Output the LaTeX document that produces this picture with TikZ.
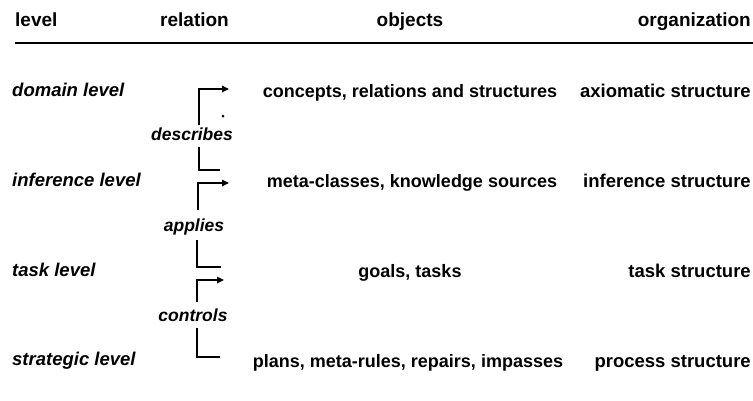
\documentclass[tikz,border=0pt]{standalone}
\usepackage{fontspec}
\setmainfont{Liberation Sans}
\usetikzlibrary{arrows.meta}
\begin{document}
\begin{tikzpicture}[x=1pt,y=-1pt,
  hdr/.style={font=\fontsize{19}{22}\selectfont\bfseries, inner sep=0pt},
  lvl/.style={font=\fontsize{18.5}{22}\selectfont\bfseries\itshape, anchor=base west, inner sep=0pt},
  rel/.style={font=\fontsize{17.5}{21}\selectfont\bfseries\itshape, anchor=base, inner sep=0pt},
  obj/.style={font=\fontsize{18}{22}\selectfont\bfseries, anchor=base, inner sep=0pt},
  org/.style={font=\fontsize{18.5}{22}\selectfont\bfseries, anchor=base east, inner sep=0pt},
  br/.style={line width=1.6pt},
  arr/.style={br, -{Triangle[length=7pt,width=6.5pt]}}]
\useasboundingbox (0,0) rectangle (753,400);
% header
\node[hdr, anchor=base west] (hl) at (15,26) {level};
\node[hdr, anchor=base west] (hr) at (160,26) {relation};
\node[hdr, anchor=base] (ho) at (410,26) {objects};
\node[hdr, anchor=base east] (hg) at (751,26) {organization};
\draw[line width=1.2pt] (15,43) -- (753,43);
% levels
\node[lvl] (ld) at (12,96) {domain level};
\node[lvl] (li) at (12,186) {inference level};
\node[lvl] (lt) at (12,276) {task level};
\node[lvl] (ls) at (12,365) {strategic level};
% objects
\node[obj] (od) at (410,97) {concepts, relations and structures};
\node[obj] (oi) at (412,187) {meta-classes, knowledge sources};
\node[obj] (ot) at (410,277) {goals, tasks};
\node[obj] (os) at (408,367) {plans, meta-rules, repairs, impasses};
% organization
\node[org] (gd) at (751,97) {axiomatic structure};
\node[org] (gi) at (751,187) {inference structure};
\node[org] (gt) at (751,277) {task structure};
\node[org] (gs) at (751,367) {process structure};
% relations
\node[rel] (rd) at (192,140) {describes};
\node[rel] (ra) at (194,231) {applies};
\node[rel] (rc) at (193,321) {controls};
% bracket end points
\coordinate (d1s) at (199,125); \coordinate (d1t) at (229,89);
\coordinate (d2s) at (199,147); \coordinate (d2t) at (220,170);
\coordinate (a1s) at (198,210); \coordinate (a1t) at (229,183);
\coordinate (a2s) at (197,240); \coordinate (a2t) at (221,267);
\coordinate (c1s) at (197,302); \coordinate (c1t) at (224,280);
\coordinate (c2s) at (197,328); \coordinate (c2t) at (220,357);
\draw[arr] (d1s) |- (d1t);
\draw[br] (d2s) |- (d2t);
\draw[arr] (a1s) |- (a1t);
\draw[br] (a2s) |- (a2t);
\draw[arr] (c1s) |- (c1t);
\draw[br] (c2s) |- (c2t);
\fill (223,116) circle (1.5);
\end{tikzpicture}
\end{document}
